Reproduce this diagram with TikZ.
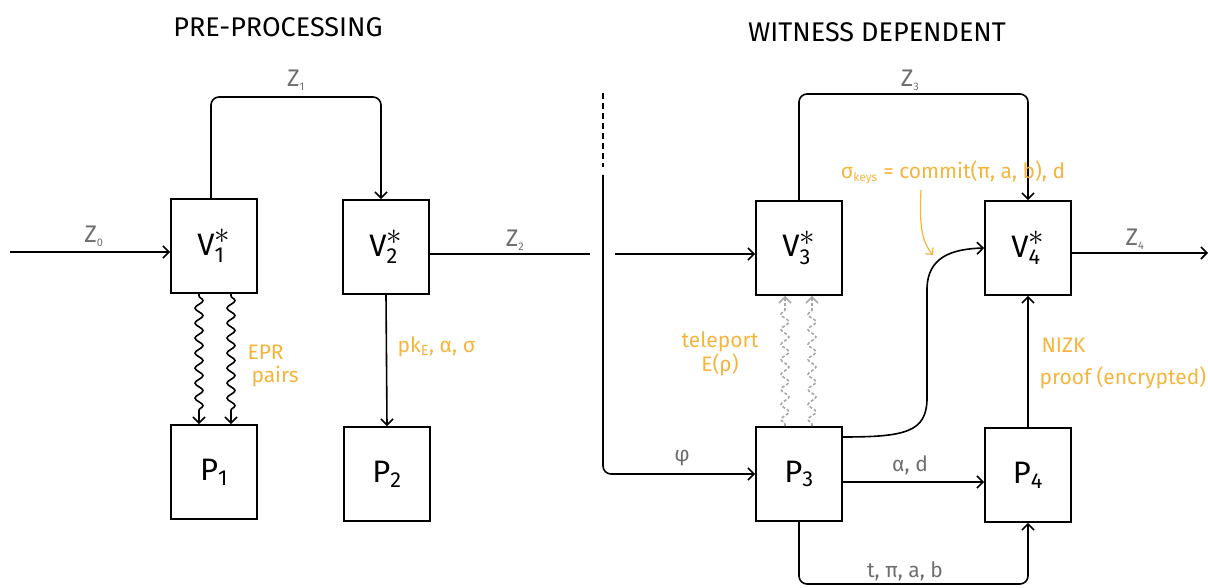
\RequirePackage{fix-cm}
\documentclass[tikz,border=0pt]{standalone}
\usepackage{fontspec}
\setmainfont{Fira Sans}
\setsansfont{Fira Sans}
\usetikzlibrary{arrows.meta,decorations.pathmorphing,calc}
\definecolor{orng}{HTML}{F5B53D}
\definecolor{gry}{HTML}{6E6E6E}
\definecolor{wavgry}{HTML}{A8A8A8}
\newcommand{\zsub}[1]{\textsubscript{\fontsize{11}{12}\selectfont #1}}
\newcommand{\vstar}[1]{$\mathsf{V}^{\textstyle *}_{\mathsf{#1}}$}
\begin{document}
\begin{tikzpicture}[x=1pt,y=-1pt,
 box/.style={draw,line width=1.8pt,minimum width=86pt,minimum height=94pt,inner sep=0pt,font=\fontsize{31}{36}\selectfont},
 conn/.style={line width=1.6pt},
 arr/.style={conn,-{Straight Barb[length=6pt,width=12pt,line width=1.6pt]}},
 wavy/.style={arr,decorate,decoration={snake,amplitude=4pt,segment length=15pt,post length=7pt,pre length=2pt}},
 zlab/.style={text=gry,font=\fontsize{24}{26}\selectfont},
 glab/.style={text=gry,font=\fontsize{21}{24}\selectfont},
 olab/.style={text=orng,font=\fontsize{21}{24}\selectfont},
 ttl/.style={font=\fontsize{27}{30}\selectfont}]
\useasboundingbox (0,0) rectangle (1208,588);

% titles
\node[ttl] (t1) at (278,27) {PRE-PROCESSING};
\node[ttl] (t2) at (877,32) {WITNESS DEPENDENT};

% boxes
\node[box] (V1) at (214,246) {\vstar{1}};
\node[box] (P1) at (214,472) {$\mathsf{P}_{\mathsf{1}}$};
\node[box] (V2) at (386,247) {\vstar{2}};
\node[box] (P2) at (387,474) {$\mathsf{P}_{\mathsf{2}}$};
\node[box] (V3) at (799,248) {\vstar{3}};
\node[box] (P3) at (799,474) {$\mathsf{P}_{\mathsf{3}}$};
\node[box] (V4) at (1028,248) {\vstar{4}};
\node[box] (P4) at (1028,475) {$\mathsf{P}_{\mathsf{4}}$};

% coordinates
\coordinate (in0) at (10,252);
\coordinate (out2) at (590,254);
\coordinate (in3) at (615,254);
\coordinate (out4) at (1208,253);
\coordinate (top1) at (0,97);
\coordinate (top3) at (0,94);
\coordinate (bot) at (0,584);
\coordinate (d1) at (603,93);
\coordinate (d2) at (603,167);
\coordinate (d3) at (603,175);

% pre-processing connectors
\draw[arr] (in0) -- (in0 -| V1.west);
\node[zlab] (z0) at (94,236) {Z\zsub{0}};
\draw[arr,rounded corners=8pt] ($(V1.north)+(-3,0)$) -- ($(V1.north |- top1)+(-3,0)$) -- ($(V2.north |- top1)+(-5,0)$) -- ($(V2.north)+(-5,0)$);
\node[zlab] (z1) at (296,80) {Z\zsub{1}};
\draw[conn] (V2.east |- out2) -- (out2);
\node[zlab] (z2) at (515,240) {Z\zsub{2}};
\draw[wavy] ($(V1.south)+(-15,0)$) -- ($(P1.north)+(-15,0)$);
\draw[wavy] ($(V1.south)+(17,0)$) -- ($(P1.north)+(17,0)$);
\node[olab,anchor=west] (epr1) at (244,352) {EPR};
\node[olab,anchor=west] (epr2) at (248,377) {pairs};
\draw[arr] (V2.south) -- (P2.north);
\node[olab,anchor=west] (pk) at (394,347) {pk\textsubscript{E}, α, σ};

% divider
\draw[conn,dash pattern=on 6pt off 4pt] (d1) -- (d2);
\draw[arr,rounded corners=8pt] (d3) -- (d3 |- P3.west) -- (P3.west);
\node[glab] (phi) at (682,458) {φ};

% witness dependent connectors
\draw[arr] (in3) -- (in3 -| V3.west);
\draw[arr,rounded corners=8pt] (V3.north) -- (V3.north |- top3) -- (V4.north |- top3) -- (V4.north);
\node[zlab] (z3) at (910,80) {Z\zsub{3}};
\draw[arr] (V4.east |- out4) -- (out4);
\node[zlab] (z4) at (1135,239) {Z\zsub{4}};
\draw[wavy,draw=wavgry,dash pattern=on 3pt off 2pt] ($(P3.north)+(-14,0)$) -- ($(V3.south)+(-14,0)$);
\draw[wavy,draw=wavgry,dash pattern=on 3pt off 2pt] ($(P3.north)+(13,0)$) -- ($(V3.south)+(13,0)$);
\node[olab,align=center] (tel) at (720,354) {teleport\\E(ρ)};
\draw[arr] ($(P3.east)+(0,-37)$) .. controls (905,437) and (926,432) .. (927,400) -- (927,288) .. controls (928,258) and (950,249) .. (V4.west);
\node[olab] (sig) at (953,172) {σ\textsubscript{\fontsize{12}{14}\selectfont keys} = commit(π, a, b), d};
\coordinate (sa) at (921,190);
\coordinate (sb) at (933,255);
\draw[draw=orng,line width=1.2pt,-{Straight Barb[length=5pt,width=10pt,line width=1.2pt]}] (sa) .. controls (919,225) and (922,242) .. (sb);
\draw[arr] (P4.north) -- (V4.south);
\node[olab,anchor=west] (nizk1) at (1038,345) {NIZK};
\node[olab,anchor=west] (nizk2) at (1036,378) {proof (encrypted)};
\draw[arr] ($(P3.east)+(0,8)$) -- ($(P4.west)+(0,7)$);
\node[glab] (ad) at (910,465) {α, d};
\draw[arr,rounded corners=8pt] (P3.south) -- (P3.south |- bot) -- (P4.south |- bot) -- (P4.south);
\node[glab] (tp) at (905,571) {t, π, a, b};
\end{tikzpicture}
\end{document}
